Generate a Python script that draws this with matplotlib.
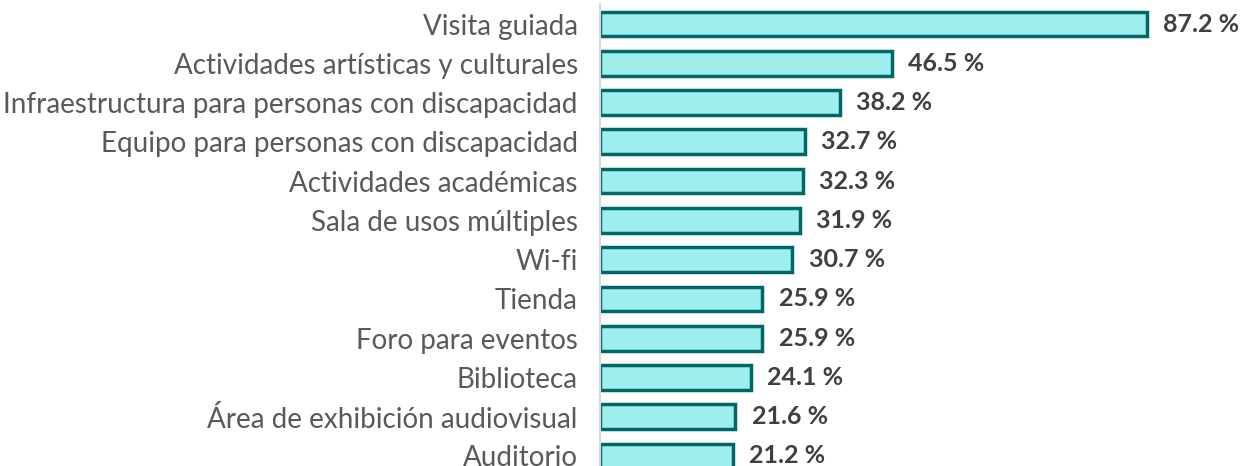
import numpy as np
import matplotlib.pyplot as plt

categories = [
    "Visita guiada",
    "Actividades artísticas y culturales",
    "Infraestructura para personas con discapacidad",
    "Equipo para personas con discapacidad",
    "Actividades académicas",
    "Sala de usos múltiples",
    "Wi-fi",
    "Tienda",
    "Foro para eventos",
    "Biblioteca",
    "Área de exhibición audiovisual",
    "Auditorio",
]
values = [87.2, 46.5, 38.2, 32.7, 32.3, 31.9, 30.7, 25.9, 25.9, 24.1, 21.6, 21.2]

plt.rcParams["font.family"] = ["Lato", "DejaVu Sans"]
text_color = "#404040"

fig = plt.figure(figsize=(12.46, 4.66), dpi=100)
ax = fig.add_axes([600 / 1246, -9.6 / 466, 627 / 1246, 471.2 / 466])

y = np.arange(len(categories))
ax.barh(y, values, height=0.63, color="#9eeeee", edgecolor="#006666", linewidth=2.5)

for yi, v in zip(y, values):
    ax.text(v + 2.6, yi, f"{v:.1f} %", va="center", ha="left", fontsize=18,
            fontweight="bold", color=text_color, clip_on=False)

ax.set_yticks(y)
ax.set_yticklabels(categories, fontsize=20, color="#595959")
ax.tick_params(axis="y", length=0, pad=16)
ax.set_xticks([])
ax.set_xlim(0, 100)
ax.set_ylim(len(categories) - 0.5, -0.5)

for side in ["top", "right", "bottom"]:
    ax.spines[side].set_visible(False)
ax.spines["left"].set_color("#d9d9d9")
ax.spines["left"].set_linewidth(1.5)

fig.savefig("out.png", dpi=100)
